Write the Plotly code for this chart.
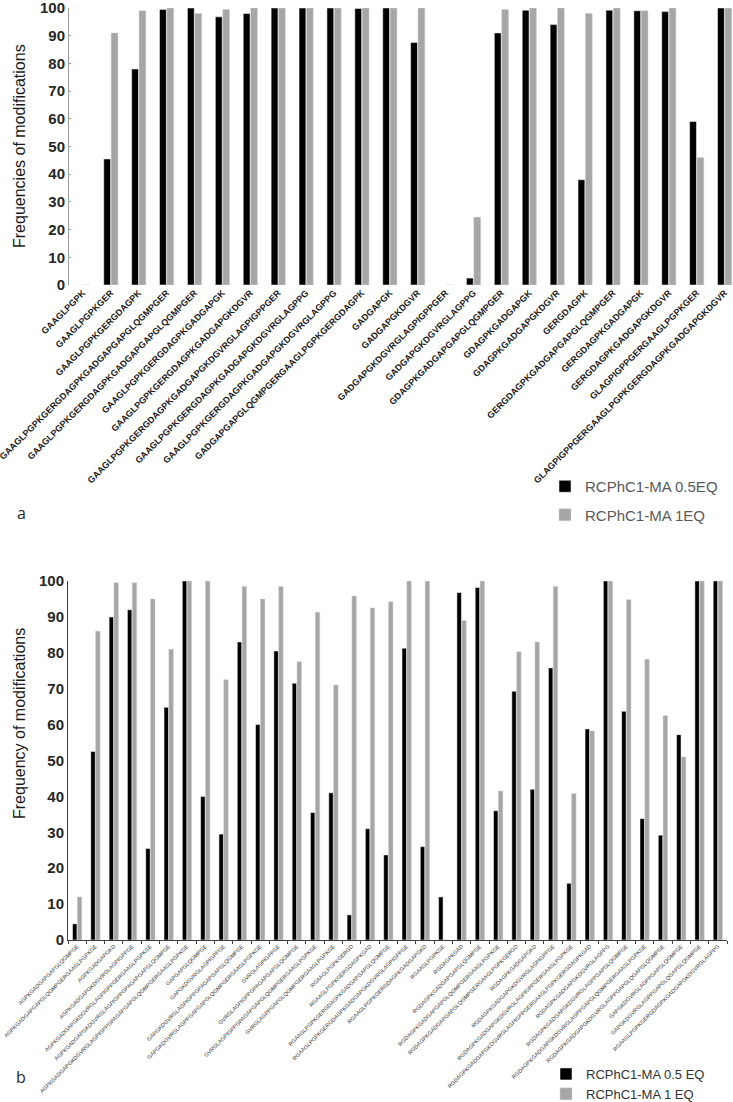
import plotly.graph_objects as go

# ---------------- Panel a data ----------------
labels_a = [
    "GAAGLPGPK",
    "GAAGLPGPKGER",
    "GAAGLPGPKGERGDAGPK",
    "GAAGLPGPKGERGDAGPKGADGAPGAPGLQGMPGER",
    "GAAGLPGPKGERGDAGPKGADGAPGAPGLQGMPGER",
    "GAAGLPGPKGERGDAGPKGADGAPGK",
    "GAAGLPGPKGERGDAGPKGADGAPGKDGVR",
    "GAAGLPGPKGERGDAGPKGADGAPGKDGVRGLAGPIGPPGER",
    "GAAGLPGPKGERGDAGPKGADGAPGKDGVRGLAGPPG",
    "GAAGLPGPKGERGDAGPKGADGAPGKDGVRGLAGPPG",
    "GADGAPGAPGLQGMPGERGAAGLPGPKGERGDAGPK",
    "GADGAPGK",
    "GADGAPGKDGVR",
    "GADGAPGKDGVRGLAGPIGPPGER",
    "GADGAPGKDGVRGLAGPPG",
    "GDAGPKGADGAPGAPGLQGMPGER",
    "GDAGPKGADGAPGK",
    "GDAGPKGADGAPGKDGVR",
    "GERGDAGPK",
    "GERGDAGPKGADGAPGAPGLQGMPGER",
    "GERGDAGPKGADGAPGK",
    "GERGDAGPKGADGAPGKDGVR",
    "GLAGPIGPPGERGAAGLPGPKGER",
    "GLAGPIGPPGERGAAGLPGPKGERGDAGPKGADGAPGKDGVR",
]
a_05eq = [0, 45.5, 78, 99.5, 100, 96.8, 98, 100, 100, 100, 99.8, 100, 87.5, 0,
          2.5, 91, 99.2, 94, 38, 99.2, 99, 98.7, 59, 100]
a_1eq = [0, 91, 99, 100, 98, 99.5, 100, 100, 100, 100, 100, 100, 100, 0,
         24.5, 99.5, 100, 100, 98, 100, 99, 100, 46, 100]

# ---------------- Panel b data ----------------
labels_b = [
    "AGPKGADGAPGAPGLQGMPGE",
    "AGPKGADGAPGAPGLQGMPGERGAAGLPGPKGE",
    "AGPKGADGAPGKD",
    "AGPKGADGAPGKDGVRGLAGPIGPPGE",
    "AGPKGADGAPGKDGVRGLAGPIGPPGERGAAGLPGPKGE",
    "AGPKGADGAPGKDGVRGLAGPIGPPGPAGAPGAPGLQGMPGE",
    "AGPKGADGAPGKDGVRGLAGPIGPPGPAGAPGAPGLQGMPGERGAAGLPGPKGE",
    "GAPGAPGLQGMPGE",
    "GAPGKDGVRGLAGPIGPPGE",
    "GAPGKDGVRGLAGPIGPPGPAGAPGAPGLQGMPGE",
    "GAPGKDGVRGLAGPPGAPGAPGLQGMPGERGAAGLPGPKGE",
    "GVRGLAGPIGPPGE",
    "GVRGLAGPIGPPGPAGAPGAPGLQGMPGE",
    "GVRGLAGPIGPPGPAGAPGAPGLQGMPGERGAAGLPGPKGE",
    "GVRGLAGPPGAPGLQGMPGERGAAGLPGPKGE",
    "RGAAGLPGPKGERGD",
    "RGAAGLPGPKGERGDAGPKGAD",
    "RGAAGLPGPKGERGDAGPKGADGAPGAPGLQGMPGE",
    "RGAAGLPGPKGERGDAGPKGADGAPGKDGVRGLAGPIGPPGE",
    "RGAAGLPGPKGERGDAGPKGADGAPGKD",
    "RGAAGLPGPKGE",
    "RGDAGPKGAD",
    "RGDAGPKGADGAPGAPGLQGMPGE",
    "RGDAGPKGADGAPGAPGLQGMPGERGAAGLPGPKGE",
    "RGDAGPKGADGAPGAPGLQGMPGERGAAGLPGPKGERGD",
    "RGDAGPKGADGAPGKD",
    "RGDAGPKGADGAPGKDGVRGLAGPIGPPGE",
    "RGDAGPKGADGAPGKDGVRGLAGPIGPPGERGAAGLPGPKGE",
    "RGDAGPKGADGAPGKDGVRGLAGPIGPPGERGAAGLPGPKGERGDAGPKGAD",
    "RGDAGPKGADGAPGKDGVRGLAGPPG",
    "RGDAGPKGADGAPGKDGVRGLAGPPGAPGLQGMPGE",
    "RGDAGPKGADGAPGKDGVRGLAGPPGAPGLQGMPGERGAAGLPGPKGE",
    "RGDAGPKGADGAPGKDGVRGLAGPPGAPGLQGAPGLQGMPGE",
    "GAPGKDGVRGLAGPPGAPGLQGMPGE",
    "GAPGKDGVRGLAGPPGAPGLQGAPGLQGMPGE",
    "RGAAGLPGPKGERGDAGPKGADGAPGKDGVRGLAGPPG",
]
b_05eq = [4.5, 52.5, 90, 92, 25.5, 64.8, 100, 40, 29.5, 83, 60, 80.5, 71.5, 35.5,
          41, 7, 31, 23.7, 81.3, 26, 12, 96.8, 98.2, 36, 69.3, 42, 75.8, 15.8,
          58.8, 100, 63.7, 33.8, 29.2, 57.2, 100, 100]
b_1eq = [12, 86, 99.5, 99.5, 95, 81, 100, 100, 72.5, 98.5, 95, 98.5, 77.5, 91.3,
         71, 95.8, 92.5, 94.2, 100, 100, 0, 89, 100, 41.5, 80.3, 83, 98.5, 40.8,
         58.2, 100, 94.8, 78.2, 62.5, 51, 100, 100]

series_a = ["RCPhC1-MA 0.5EQ", "RCPhC1-MA 1EQ"]
series_b = ["RCPhC1-MA 0.5 EQ", "RCPhC1-MA 1 EQ"]
y_ticks = list(range(0, 101, 10))

BLACK = "#000000"
GRAY = "#a6a6a6"
FONT = "Liberation Sans, Arial, sans-serif"
W, H = 733, 1102

def px_x(p):
    return p / W

def px_y(p):
    return 1 - p / H

idx_a = list(range(len(labels_a)))

fig = go.Figure()
fig.add_trace(go.Bar(x=idx_a, y=a_05eq, name=series_a[0], marker_color=BLACK,
                     marker_line=dict(color="white", width=0.5),
                     xaxis="x", yaxis="y", legend="legend", legendgroup="a1"))
fig.add_trace(go.Bar(x=idx_a, y=a_1eq, name=series_a[1], marker_color=GRAY,
                     marker_line=dict(color="#d0d0d0", width=0.5),
                     xaxis="x", yaxis="y", legend="legend", legendgroup="a2"))
fig.add_trace(go.Bar(x=labels_b, y=b_05eq, name=series_b[0], marker_color=BLACK,
                     marker_line=dict(color="white", width=0.5),
                     xaxis="x2", yaxis="y2", legend="legend2"))
fig.add_trace(go.Bar(x=labels_b, y=b_1eq, name=series_b[1], marker_color=GRAY,
                     marker_line=dict(color="#d0d0d0", width=0.5),
                     xaxis="x2", yaxis="y2", legend="legend2"))

tick_font = dict(family=FONT, size=15, color="#262626", weight="bold")

fig.update_layout(
    width=W, height=H,
    margin=dict(l=0, r=0, t=0, b=0, autoexpand=False),
    paper_bgcolor="white", plot_bgcolor="white",
    barmode="group", bargap=0.47, bargroupgap=0.08,
    showlegend=True,
    font=dict(family=FONT),
    xaxis=dict(
        domain=[px_x(69), 1.0], anchor="y", automargin=False,
        range=[-0.5, 23.3],
        tickmode="array", tickvals=idx_a, ticktext=labels_a,
        tickangle=-45, tickfont=dict(family=FONT, size=9, color="#1a1a1a", weight="bold"),
        ticklabeloverflow="allow",
        showline=False, showgrid=False, zeroline=False, ticks="",
    ),
    yaxis=dict(
        domain=[px_y(285), px_y(8)], anchor="x", automargin=False,
        range=[0, 100], tickmode="array", tickvals=y_ticks,
        tickfont=tick_font, showgrid=False, zeroline=False,
        ticklabeloverflow="allow",
        showline=True, linecolor="#9a9a9a", linewidth=1,
        ticks="inside", ticklen=2, tickcolor="#9a9a9a",
    ),
    xaxis2=dict(
        domain=[px_x(68), px_x(727)], anchor="y2", automargin=False,
        type="category", tickangle=-45,
        tickfont=dict(family=FONT, size=5.5, color="#333333"),
        ticklabeloverflow="allow",
        showline=True, linecolor="#404040", linewidth=1,
        ticks="outside", tickson="boundaries", ticklen=3, tickcolor="#404040",
        showgrid=False, zeroline=False,
    ),
    yaxis2=dict(
        domain=[px_y(940), px_y(581)], anchor="x2", automargin=False,
        range=[0, 100], tickmode="array", tickvals=y_ticks,
        tickfont=tick_font, showgrid=False, zeroline=False,
        ticklabeloverflow="allow",
        showline=True, linecolor="#404040", linewidth=1, ticks="",
    ),
    legend=dict(
        x=px_x(545), y=px_y(470), xanchor="left", yanchor="top",
        font=dict(family=FONT, size=15, color="#595959"),
        tracegroupgap=6, itemwidth=30, bgcolor="rgba(0,0,0,0)",
    ),
    legend2=dict(
        x=px_x(546), y=px_y(1059), xanchor="left", yanchor="top",
        font=dict(family=FONT, size=13, color="#333333"),
        itemwidth=30, bgcolor="rgba(0,0,0,0)", tracegroupgap=0,
    ),
    annotations=[
        dict(text="Frequencies of modifications", x=px_x(19), y=px_y(146),
             xref="paper", yref="paper", textangle=-90, showarrow=False,
             xanchor="center", yanchor="middle",
             font=dict(family=FONT, size=16, color="#1a1a1a")),
        dict(text="Frequency of modifications", x=px_x(19), y=px_y(724),
             xref="paper", yref="paper", textangle=-90, showarrow=False,
             xanchor="center", yanchor="middle",
             font=dict(family=FONT, size=16, color="#1a1a1a")),
        dict(text="a", x=px_x(21), y=px_y(513), xref="paper", yref="paper",
             xanchor="center", yanchor="middle", showarrow=False,
             font=dict(family="Open Sans, sans-serif", size=16, color="#262626")),
        dict(text="b", x=px_x(21), y=px_y(1077), xref="paper", yref="paper",
             xanchor="center", yanchor="middle", showarrow=False,
             font=dict(family="Open Sans, sans-serif", size=16, color="#262626")),
    ],
)

fig.write_html(
    "out.html",
    config={"displayModeBar": False},
    post_script="document.body.style.margin='0';document.body.style.overflow='hidden';",
)
